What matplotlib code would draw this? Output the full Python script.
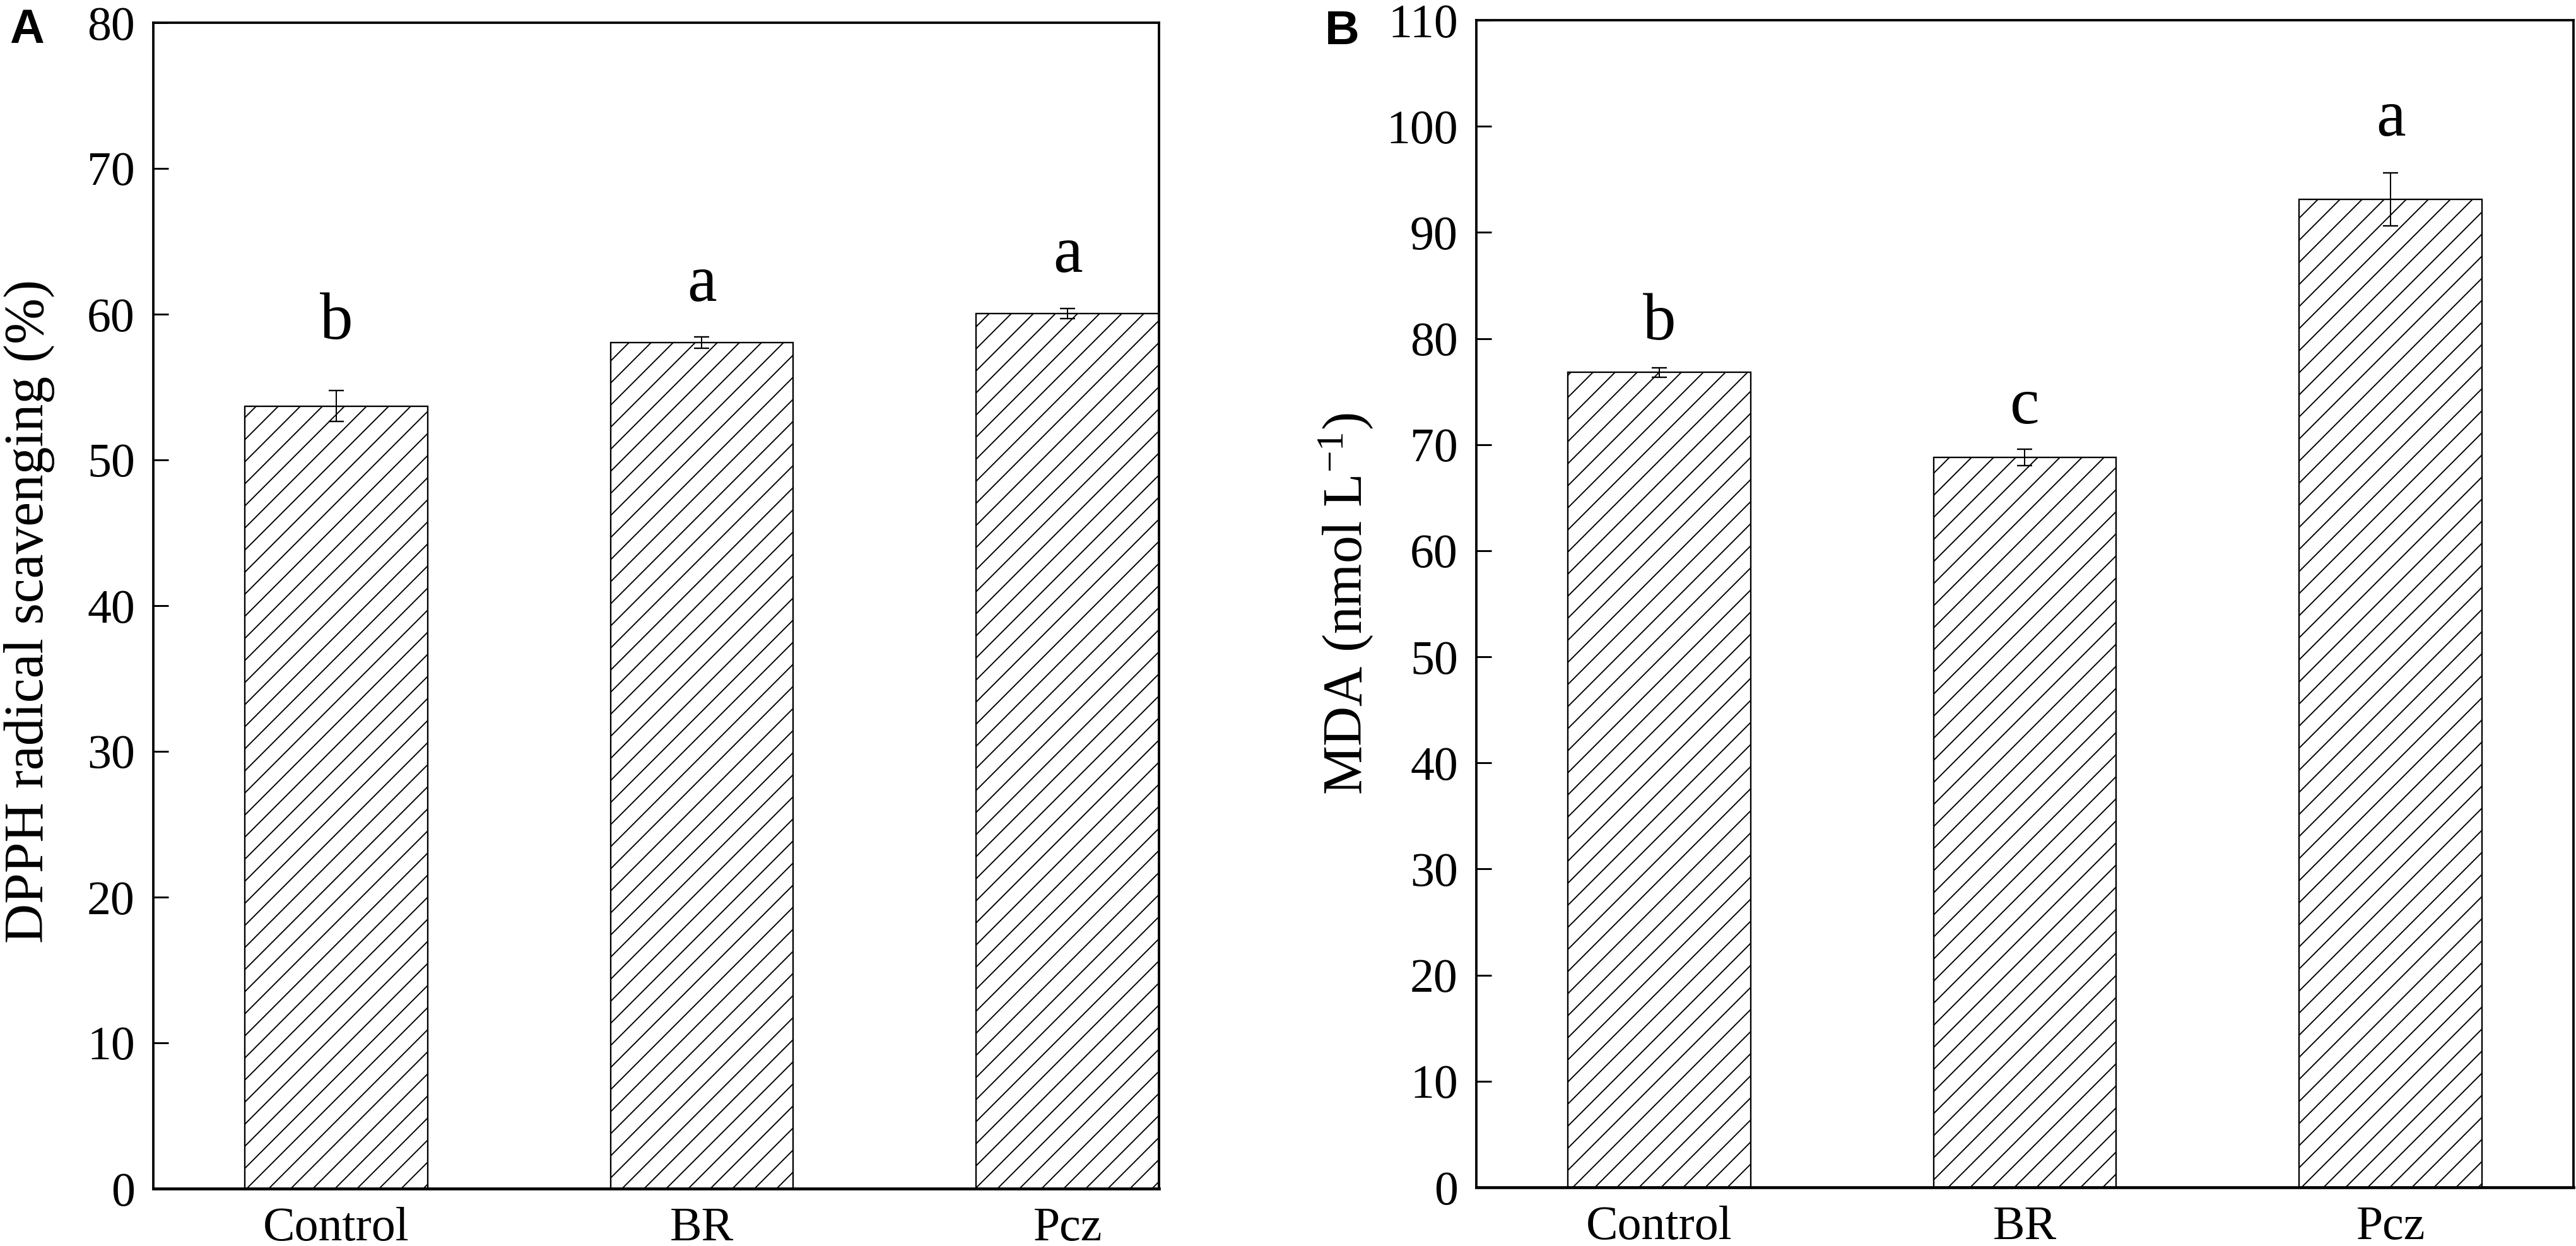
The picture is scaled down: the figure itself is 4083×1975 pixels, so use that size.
import matplotlib

matplotlib.use("Agg")
import matplotlib.pyplot as plt

# data
groups = ["Control", "BR", "Pcz"]

dpph_mean = [53.7, 58.05, 60.05]
dpph_sd = [1.05, 0.4, 0.35]
dpph_letters = ["b", "a", "a"]
dpph_letter_y = [58.3, 60.9, 62.9]

mda_mean = [76.8, 68.8, 93.1]
mda_sd = [0.45, 0.75, 2.5]
mda_letters = ["b", "c", "a"]
mda_letter_y = [79.9, 72.0, 99.1]

DPI = 210
W, H = 4083, 1975

plt.rcParams["font.family"] = ["Liberation Serif", "DejaVu Serif"]
plt.rcParams["mathtext.fontset"] = "custom"
plt.rcParams["mathtext.rm"] = "Liberation Serif"
plt.rcParams["mathtext.it"] = "Liberation Serif:italic"
plt.rcParams["hatch.linewidth"] = 0.65
plt.rcParams["hatch.color"] = "black"

fig = plt.figure(figsize=(W / DPI, H / DPI), dpi=DPI)
fig.patch.set_facecolor("white")


def px_axes(left, right, top, bottom):
    return [left / W, 1 - bottom / H, (right - left) / W, (bottom - top) / H]


ax_a = fig.add_axes(px_axes(243, 1837, 36, 1884))
ax_b = fig.add_axes(px_axes(2340, 4079, 32, 1882))


def draw_panel(ax, means, sds, letters, letter_y, ymax, xmax, ylabel, label_pos):
    x = list(range(len(groups)))
    ax.bar(
        x,
        means,
        width=0.5,
        color="white",
        edgecolor="black",
        linewidth=0.8,
        hatch="//",
        zorder=2,
    )
    ax.errorbar(
        x,
        means,
        yerr=sds,
        fmt="none",
        ecolor="black",
        elinewidth=0.7,
        capsize=4,
        capthick=0.8,
        zorder=3,
    )
    for xi, lab, ly in zip(x, letters, letter_y):
        ax.text(xi, ly, lab, ha="center", va="baseline", fontsize=36)

    ax.set_xlim(-0.5, xmax)
    ax.set_ylim(0, ymax)
    ax.set_yticks(range(0, ymax + 1, 10))
    ax.set_xticks(x)
    ax.set_xticklabels(groups)
    ax.tick_params(axis="y", direction="in", length=8.2, width=1.0,
                   labelsize=26, pad=10, right=False)
    ax.tick_params(axis="x", length=0, labelsize=26, pad=10)
    for side, sp in ax.spines.items():
        sp.set_linewidth(1.6 if side == "bottom" else 1.3)
        sp.set_zorder(4)
    ax.set_ylabel(ylabel, fontsize=30)
    ax.yaxis.set_label_coords(*label_pos)


draw_panel(ax_a, dpph_mean, dpph_sd, dpph_letters, dpph_letter_y, 80, 2.25,
           "DPPH radical scavenging (%)", (-0.098, 0.495))
draw_panel(ax_b, mda_mean, mda_sd, mda_letters, mda_letter_y, 110, 2.5,
           r"MDA (nmol L$^{-1}$)", (-0.092, 0.5))

fig.text(15 / W, 1 - 68 / H, "A", fontsize=26, fontweight="bold",
         family="Liberation Sans", va="baseline")
fig.text(2100 / W, 1 - 70 / H, "B", fontsize=26, fontweight="bold",
         family="Liberation Sans", va="baseline")

fig.savefig("out.png", dpi=DPI, facecolor="white")
